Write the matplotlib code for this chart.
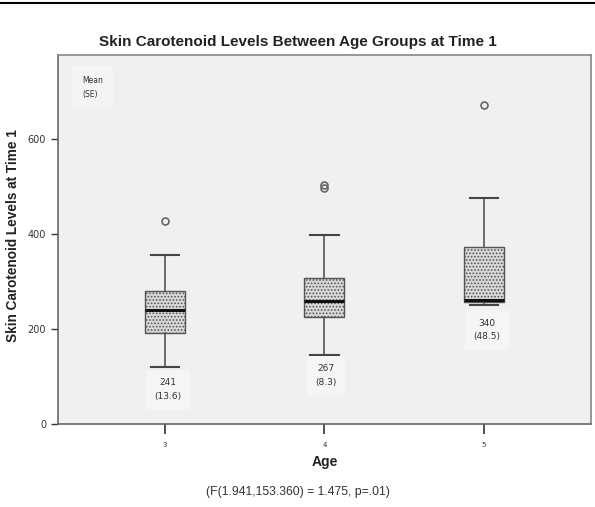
import matplotlib.pyplot as plt

# Werte
ages = [3, 4, 5]
whislo = [120, 145, 250]
q1 = [192, 225, 257]
med = [240, 259, 262]
q3 = [280, 307, 373]
whishi = [356, 398, 476]
fliers = [[427], [498, 503], [671]]
mean_lbl = ["241", "267", "340"]
se_lbl = ["(13.6)", "(8.3)", "(48.5)"]
lbl_val = [96, 126, 222]   # Hoehe der ersten Zeile der Beschriftung
lbl_x = [3.02, 4.01, 5.02]

plt.rcParams['hatch.color'] = '#9a9a9a'
plt.rcParams['hatch.linewidth'] = 0.8

fig = plt.figure(figsize=(5.95, 5.07), dpi=100)
ax = fig.add_axes([0.0975, 0.1637, 0.8955, 0.7278])
ax.set_facecolor('#f0f0f0')

stats = []
for i in range(len(ages)):
    stats.append(dict(med=med[i], q1=q1[i], q3=q3[i], whislo=whislo[i],
                      whishi=whishi[i], fliers=fliers[i]))

bp = ax.bxp(stats, positions=ages, widths=0.25, patch_artist=True,
            boxprops=dict(facecolor='#d9d9d9', edgecolor='#555555', linewidth=1.0),
            medianprops=dict(color='#111111', linewidth=2.2),
            whiskerprops=dict(color='#555555', linewidth=1.2),
            capprops=dict(color='#444444', linewidth=1.5),
            capwidths=0.18,
            flierprops=dict(marker='o', markersize=5, markerfacecolor='none',
                            markeredgecolor='#666666', markeredgewidth=1.2))
for b in bp['boxes']:
    b.set_hatch('.....')

ax.set_xlim(2.33, 5.67)
ax.set_ylim(0, 777)

# Mittelwert / SE Beschriftungen
for i in range(len(ages)):
    ax.text(lbl_x[i], lbl_val[i], mean_lbl[i] + "\n" + se_lbl[i], fontsize=6.5, color='#333333',
            ha='center', va='top', linespacing=1.7,
            bbox=dict(facecolor='#f5f5f5', edgecolor='none', pad=6))

ax.text(0.045, 0.912, "Mean\n(SE)", transform=ax.transAxes, fontsize=5.5, color='#333333',
        ha='left', va='center', linespacing=1.7,
        bbox=dict(facecolor='#f4f4f4', edgecolor='none', pad=7))

ax.set_yticks([0, 200, 400, 600])
ax.set_xticks(ages)
ax.set_xticklabels([str(a) for a in ages])
ax.tick_params(axis='y', labelsize=7, colors='#333333', length=5, width=1)
ax.tick_params(axis='x', labelsize=5, colors='#333333', length=7, width=1.2, pad=6)

for s in ax.spines.values():
    s.set_color('#888888')
    s.set_linewidth(1.2)
ax.spines['left'].set_color('#666666')
ax.spines['bottom'].set_color('#666666')

fig.text(0.5, 1 - 42 / 507, 'Skin Carotenoid Levels Between Age Groups at Time 1', fontsize=11,
         fontweight='bold', color='#222222', ha='center', va='center', family='Liberation Sans')
ax.set_ylabel('Skin Carotenoid Levels at Time 1', fontsize=9.8, fontweight='bold',
              color='#222222', family='Liberation Sans')
ax.yaxis.set_label_coords(-0.072, 0.51)
ax.set_xlabel('Age', fontsize=10, fontweight='bold', color='#222222', labelpad=5,
              family='Liberation Sans')

fig.text(0.5, 1 - 492 / 507, '(F(1.941,153.360) = 1.475, p=.01)', fontsize=8.8,
         ha='center', va='center', color='#333333', family='Liberation Sans')

# Linie ganz oben
fig.add_artist(plt.Line2D([0, 1], [1 - 3 / 507, 1 - 3 / 507], color='black', linewidth=1.5))

fig.savefig('out.png', dpi=100)
